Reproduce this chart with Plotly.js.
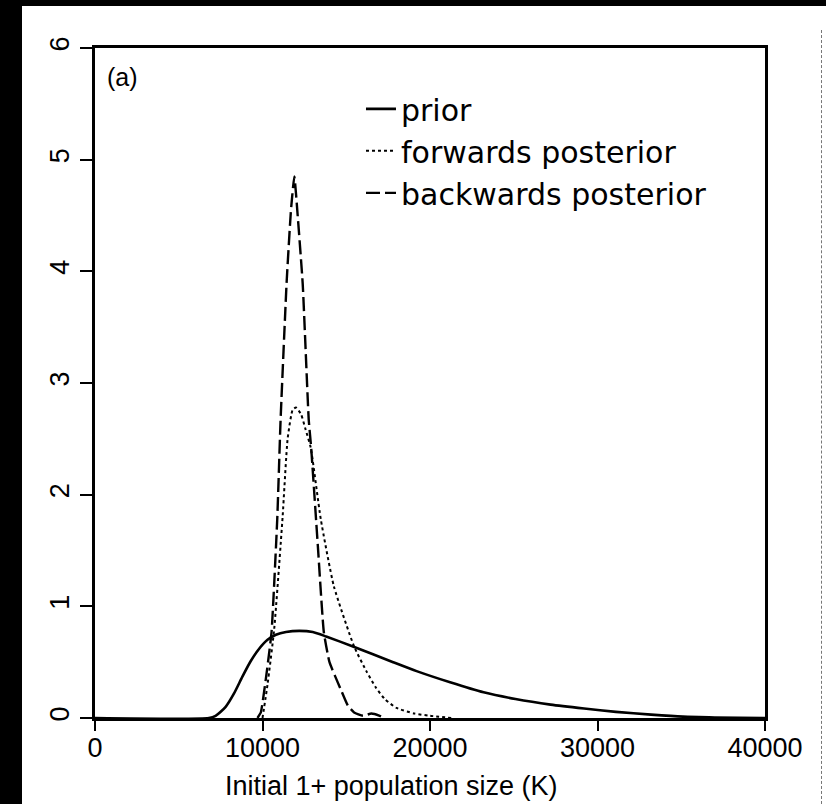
<!DOCTYPE html>
<html>
<head>
<meta charset="utf-8">
<script src="https://cdn.plot.ly/plotly-3.0.1.min.js"></script>
<style>
  html, body { margin: 0; padding: 0; background: #fff; }
  #chart { width: 826px; height: 804px; position: absolute; left: 0; top: 0; }
  .band { position: absolute; background: #000; }
</style>
</head>
<body>
<div id="chart"></div>
<div class="band" style="left:0;top:0;width:826px;height:6px;"></div>
<div class="band" style="left:0;top:0;width:22px;height:804px;"></div>
<div style="position:absolute;left:821px;top:30px;width:0;height:774px;border-left:1px dashed #777;"></div>
<script>
// Prior density
const priorX = [0, 6800, 7200, 7800, 8300, 8800, 9300, 9800, 10300, 10800, 11400, 12200, 13000, 13800, 15400, 17800, 19200, 21200, 23200, 25100, 27200, 29200, 31100, 33200, 35100, 37000, 40000];
const priorY = [0, 0, 0.02, 0.10, 0.22, 0.37, 0.51, 0.62, 0.70, 0.745, 0.77, 0.78, 0.77, 0.73, 0.64, 0.50, 0.42, 0.32, 0.23, 0.17, 0.12, 0.085, 0.055, 0.03, 0.012, 0.005, 0];

// Forwards posterior density
const fwdX = [10000, 10300, 10700, 11200, 11500, 11800, 12000, 12300, 12580, 12880, 13480, 14260, 15470, 16200, 16780, 17300, 18000, 19070, 20000, 21300];
const fwdY = [0, 0.3, 0.8, 1.8, 2.5, 2.76, 2.78, 2.72, 2.58, 2.42, 1.78, 1.18, 0.64, 0.42, 0.27, 0.17, 0.09, 0.04, 0.02, 0];

// Backwards posterior density
const bwdX = [9700, 9900, 10200, 10540, 10880, 11080, 11440, 11700, 11900, 12100, 12400, 12760, 12900, 13300, 13660, 14000, 14690, 15100, 15470, 16000, 16500, 17000, 17300];
const bwdY = [0, 0.05, 0.35, 0.77, 1.78, 2.67, 3.9, 4.55, 4.85, 4.5, 3.89, 2.67, 2.43, 1.55, 0.77, 0.5, 0.25, 0.11, 0.05, 0.02, 0.04, 0.02, 0];

const xTicks = [0, 10000, 20000, 30000, 40000];
const xTickText = ['0', '10000', '20000', '30000', '40000'];
const yTicks = [0, 1, 2, 3, 4, 5, 6];
const yTickText = ['0', '1', '2', '3', '4', '5', '6'];

const seriesNames = ['prior', 'forwards posterior', 'backwards posterior'];
const panelLabel = '(a)';
const xTitle = 'Initial 1+ population size (K)';

const traces = [
  { x: priorX, y: priorY, name: seriesNames[0], mode: 'lines',
    line: { color: '#000', width: 2.6, shape: 'spline', smoothing: 0.6 } },
  { x: fwdX, y: fwdY, name: seriesNames[1], mode: 'lines',
    line: { color: '#000', width: 2, dash: 'dot', shape: 'spline', smoothing: 0.5 } },
  { x: bwdX, y: bwdY, name: seriesNames[2], mode: 'lines',
    line: { color: '#000', width: 2.4, dash: '14px,5px', shape: 'spline', smoothing: 0.4 } }
];

const fontFam = '"Liberation Sans", Arial, Helvetica, sans-serif';
const legFam = '"DejaVu Sans", "Liberation Sans", Arial, sans-serif';

const layout = {
  width: 826, height: 804,
  margin: { l: 95, r: 61, t: 48, b: 86 },
  paper_bgcolor: '#fff', plot_bgcolor: '#fff',
  showlegend: true,
  legend: {
    x: 0.397, y: 0.948, xanchor: 'left', yanchor: 'top',
    bgcolor: 'rgba(0,0,0,0)', borderwidth: 0,
    font: { family: legFam, size: 30, color: '#000' },
    tracegroupgap: 0
  },
  xaxis: {
    range: [0, 40000], tickvals: xTicks, ticktext: xTickText,
    ticks: 'outside', ticklen: 10, tickwidth: 2, tickcolor: '#000',
    ticklabelstandoff: -6,
    showline: true, linecolor: '#000', linewidth: 3, mirror: true,
    showgrid: false, zeroline: false,
    tickfont: { family: fontFam, size: 27, color: '#000' }
  },
  yaxis: {
    range: [0, 6], tickvals: yTicks, ticktext: yTickText,
    ticks: 'outside', ticklen: 12, tickwidth: 2, tickcolor: '#000', tickangle: -90,
    showline: true, linecolor: '#000', linewidth: 3, mirror: true,
    showgrid: false, zeroline: false,
    tickfont: { family: fontFam, size: 27, color: '#000' }
  },
  annotations: [
    { text: panelLabel, xref: 'paper', yref: 'paper', x: 0.015, y: 0.98,
      xanchor: 'left', yanchor: 'top', showarrow: false,
      font: { family: fontFam, size: 25, color: '#000' } },
    { text: xTitle, xref: 'paper', yref: 'paper', x: 0.442, y: -0.076,
      xanchor: 'center', yanchor: 'top', showarrow: false,
      font: { family: fontFam, size: 27, color: '#000' } }
  ]
};

Plotly.newPlot('chart', traces, layout, { displayModeBar: false, staticPlot: true });
</script>
</body>
</html>
